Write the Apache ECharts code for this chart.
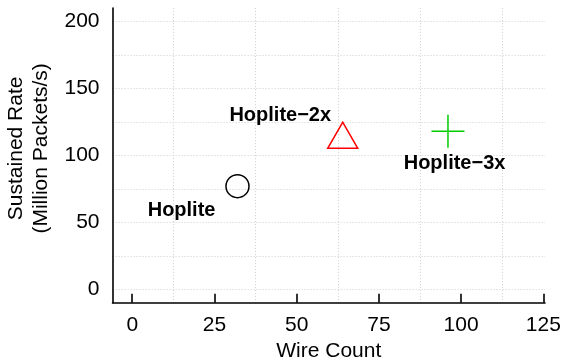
<!DOCTYPE html>
<html>
<head>
<meta charset="utf-8">
<script src="https://cdn.jsdelivr.net/npm/echarts@6/dist/echarts.min.js"></script>
<style>
html,body{margin:0;padding:0;background:#fff;}
#chart{width:563px;height:358px;}
</style>
</head>
<body>
<div id="chart"></div>
<script>
// ---- data ----
var names = ['Hoplite', 'Hoplite\u22122x', 'Hoplite\u22123x'];
var wireCounts = [32, 64, 96];
var rates = [77, 112, 118];
var labelX = [15, 45, 98];
var labelY = [58.5, 130, 94];
var xTicks = [0, 25, 50, 75, 100, 125];
var xGrid = [12.5, 37.5, 62.5, 87.5, 112.5];
var yTicks = [0, 50, 100, 150, 200];
var yGrid = [0, 25, 50, 75, 100, 125, 150, 175, 200];

var FONT = 'Liberation Sans, Arial, Helvetica, sans-serif';
var gridLine = {show: true, lineStyle: {color: '#d6d6d6', type: [1.2, 1.8], width: 1}};

var chart = echarts.init(document.getElementById('chart'), null, {renderer: 'canvas'});
chart.setOption({
  animation: false,
  backgroundColor: '#ffffff',
  grid: {left: 112.5, right: 18, top: 8, bottom: 55.3, containLabel: false, outerBoundsMode: 'none'},
  xAxis: [{
    type: 'value', min: -6, max: 125.5,
    name: 'Wire Count', nameLocation: 'middle', nameGap: 29,
    nameTextStyle: {fontFamily: FONT, fontSize: 21, color: '#000'},
    axisLine: {show: true, onZero: false, lineStyle: {color: '#000', width: 1.6}},
    axisTick: {show: true, inside: true, length: 9, customValues: xTicks, lineStyle: {color: '#000', width: 1.6}},
    axisLabel: {show: true, customValues: xTicks, margin: 12, fontFamily: FONT, fontSize: 21, color: '#000'},
    splitLine: {show: false}
  }, {
    type: 'value', min: -6, max: 125.5, position: 'bottom',
    axisLine: {show: false},
    axisTick: {show: false, customValues: xGrid},
    axisLabel: {show: false},
    splitLine: gridLine
  }],
  yAxis: [{
    type: 'value', min: -10, max: 210,
    name: 'Sustained Rate\n(Million Packets/s)', nameLocation: 'middle', nameGap: 55,
    nameTextStyle: {fontFamily: FONT, fontSize: 21, color: '#000', lineHeight: 25, padding: [0, 0, 0, 14]},
    axisLine: {show: true, onZero: false, lineStyle: {color: '#000', width: 1.6}},
    axisTick: {show: false, customValues: yGrid},
    axisLabel: {show: true, customValues: yTicks, margin: 13, fontFamily: FONT, fontSize: 21, color: '#000'},
    splitLine: gridLine
  }],
  series: [{
    type: 'scatter', name: names[0], xAxisIndex: 0,
    data: [[wireCounts[0], rates[0]]],
    symbol: 'circle', symbolSize: 23,
    itemStyle: {color: 'rgba(0,0,0,0)', borderColor: '#000', borderWidth: 1.5, opacity: 1},
    silent: true, z: 5
  }, {
    type: 'scatter', name: names[1], xAxisIndex: 0,
    data: [[wireCounts[1], rates[1]]],
    symbol: 'triangle', symbolSize: [30, 26], symbolOffset: [0, -4],
    itemStyle: {color: 'rgba(0,0,0,0)', borderColor: '#ff0000', borderWidth: 1.5, opacity: 1},
    silent: true, z: 5
  }, {
    type: 'scatter', name: names[2], xAxisIndex: 0,
    data: [[wireCounts[2], rates[2]]],
    symbol: 'path://M5,0 L5,10 M0,5 L10,5', symbolSize: 33,
    itemStyle: {color: 'rgba(0,0,0,0)', borderColor: '#00cd00', borderWidth: 1.5, opacity: 1},
    silent: true, z: 5
  }, {
    type: 'scatter', name: 'labels', xAxisIndex: 0,
    data: labelX.map(function (x, i) { return {value: [x, labelY[i]], name: names[i]}; }),
    symbolSize: 1,
    itemStyle: {color: 'rgba(0,0,0,0)', opacity: 1},
    label: {show: true, position: 'inside', formatter: '{b}', fontFamily: FONT, fontSize: 20, fontWeight: 'bold', color: '#000'},
    silent: true, z: 6
  }]
});
</script>
</body>
</html>
